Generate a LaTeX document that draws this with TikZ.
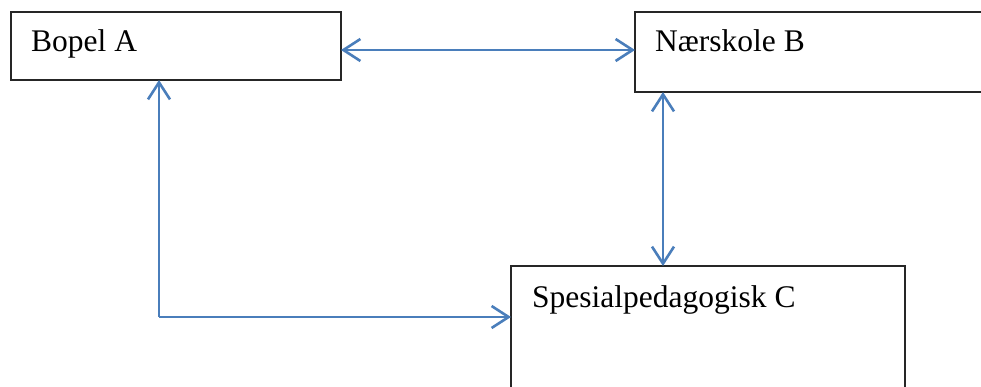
\documentclass[tikz,border=0pt]{standalone}
\usepackage{fontspec}
\setmainfont{Liberation Serif}
\usetikzlibrary{arrows.meta}
\definecolor{arrowblue}{RGB}{74,126,187}
\tikzset{
  boxnode/.style={draw=black!85, line width=1.3pt, rectangle, anchor=north west, inner sep=0pt, outer sep=0pt},
  labeltext/.style={anchor=base west, inner sep=0pt, font=\fontsize{31.5}{36}\selectfont},
  link/.style={draw=arrowblue, line width=2.8pt, {Straight Barb[length=17pt,width=22pt,line width=2.6pt]}-{Straight Barb[length=17pt,width=22pt,line width=2.6pt]}},
  onelink/.style={draw=arrowblue, line width=2.8pt, -{Straight Barb[length=17pt,width=22pt,line width=2.6pt]}},
  startlink/.style={draw=arrowblue, line width=2.8pt, {Straight Barb[length=17pt,width=22pt,line width=2.6pt]}-}
}
\begin{document}
\begin{tikzpicture}[x=1pt,y=-1pt]
\useasboundingbox (0,0) rectangle (981,387);
\clip (0,0) rectangle (981,387);
\fill[white] (0,0) rectangle (981,387);
\node[boxnode, minimum width=330pt, minimum height=68pt] (A) at (11,12) {};
\node[boxnode, minimum width=380pt, minimum height=80pt] (B) at (635,12) {};
\node[boxnode, minimum width=394pt, minimum height=140pt] (C) at (511,266) {};
\node[labeltext] (tA) at (31,52) {Bopel A};
\node[labeltext] (tB) at (655,52) {Nærskole B};
\node[labeltext] (tC) at (532,307) {Spesialpedagogisk C};
\coordinate (corner) at (159,317);
\draw[link] (A.east |- 0,50) -- (B.west |- 0,50);
\draw[link] (B.south -| 663,0) -- (C.north -| 663,0);
\draw[startlink] (A.south -| corner) -- (corner);
\draw[onelink] (corner) -- (C.west |- corner);
\end{tikzpicture}
\end{document}
